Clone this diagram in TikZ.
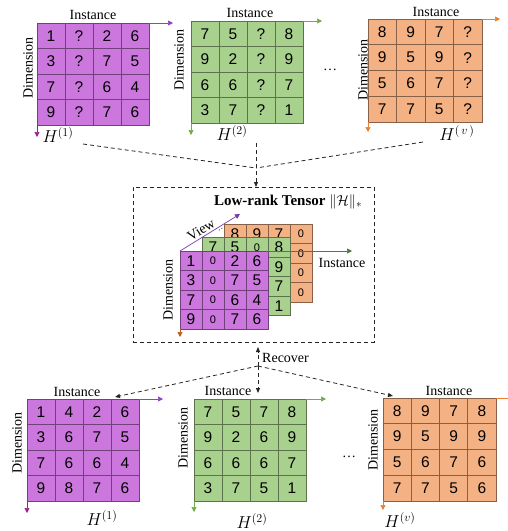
\documentclass[tikz,border=0pt]{standalone}
\usepackage{amsmath,amssymb}
\usepackage{fontspec}
\setmainfont{Liberation Serif}
\newfontfamily\numfont{Liberation Sans}
\usepackage{tikz}
\usetikzlibrary{positioning,calc,arrows.meta}

\definecolor{pfill}{HTML}{CC77DD}
\definecolor{gfill}{HTML}{A9D18E}
\definecolor{ofill}{HTML}{F4B183}
\definecolor{parrow}{HTML}{8E44C8}
\definecolor{pdown}{HTML}{A0209A}
\definecolor{garrow}{HTML}{70AD47}
\definecolor{oarrow}{HTML}{ED7D31}
\definecolor{darkg}{HTML}{4E7A3A}
\definecolor{odown}{HTML}{C55A11}

\tikzset{
  matbox/.style={inner sep=0pt,outer sep=0pt},
  cell/.style={draw=#1!55!black,fill=#1,line width=0.6pt,inner sep=0pt,
    font=\numfont\fontsize{15.5}{15.5}\selectfont},
  lbl/.style={inner sep=1pt,font=\fontsize{14}{16}\selectfont},
  dimlbl/.style={lbl,rotate=90},
  hlbl/.style={inner sep=0pt,font=\fontsize{17}{17}\selectfont},
  axis/.style={line width=0.7pt,-{Triangle[length=5pt,width=5pt]}},
  link/.style={black!85,line width=0.8pt,dash pattern=on 4pt off 3pt,
    -{Triangle[length=5pt,width=4pt]}},
  plain link/.style={black!85,line width=0.8pt,dash pattern=on 4pt off 3pt},
}

% small zero of the tensor slices
\newcommand{\zr}{{\fontsize{11}{11}\selectfont 0}}

% name, north west corner, fill, cell width, cell height, rows
\newcommand{\hmat}[6]{%
  \node[matbox,minimum width=4*#4,minimum height=4*#5,anchor=north west] (#1) at (#2) {};
  \foreach \row [count=\i] in {#6} {
    \foreach \v [count=\j] in \row
      \node[cell=#3,minimum width=#4,minimum height=#5] (#1-\i-\j)
        at ($(#1.north west)+({(\j-0.5)*#4},{(\i-0.5)*#5})$) {\v};
  }
}

\begin{document}
\begin{tikzpicture}[x=1pt,y=-1pt]
    \useasboundingbox (0,0) rectangle (507,531);

    % incomplete views
    \hmat{P1}{37,23}{pfill}{28}{25.5}{{1,?,2,6},{3,?,7,5},{7,?,6,4},{9,?,7,6}}
    \hmat{G1}{191,21}{gfill}{28}{25.5}{{7,5,?,8},{9,2,?,9},{6,6,?,7},{3,7,?,1}}
    \hmat{O1}{368,19}{ofill}{28.5}{25.75}{{8,9,7,?},{9,5,9,?},{5,6,7,?},{7,7,5,?}}
    \draw[axis,parrow] (P1.north east) -- ++(24,0);
    \draw[axis,pdown] (P1.south west) -- ++(0,12);
    \draw[axis,garrow] (G1.north east) -- ++(19,0);
    \draw[axis,garrow] (G1.south west) -- ++(0,12);
    \draw[axis,oarrow] (O1.north east) -- ++(18,0);
    \draw[axis,oarrow] (O1.south west) -- ++(0,10);
    \node[lbl] (P1i) at (93,15) {Instance};
    \node[dimlbl] (P1d) at (28,68) {Dimension};
    \node[hlbl] (P1h) at (58,135) {$H^{(1)}$};
    \node[lbl] (G1i) at (250,13) {Instance};
    \node[dimlbl] (G1d) at (179,60) {Dimension};
    \node[hlbl] (G1h) at (232,133) {$H^{(2)}$};
    \node[lbl] (O1i) at (436,12) {Instance};
    \node[dimlbl] (O1d) at (363,70) {Dimension};
    \node[hlbl] (O1h) at (457,133) {$H^{(\,v\,)}$};
    \node[lbl] (dots1) at (330,70) {\dots};

    % tensor
    \node[draw=black!85,line width=0.8pt,dash pattern=on 4pt off 3pt,inner sep=0pt,
      minimum width=241,minimum height=155,anchor=north west] (tbox) at (133,187) {};
    \node[lbl,font=\bfseries\fontsize{15}{17}\selectfont] (ttl) at (288,202)
      {Low-rank Tensor $\|\mathcal{H}\|_*$};
    \node[inner sep=0pt,rotate=32,font=\fontsize{9}{9}\selectfont] (vdots) at (222,229) {\dots};
    \hmat{TO}{224,224}{ofill}{22}{19.5}{{8,9,7,\zr},{{},{},{},\zr},{{},{},{},\zr},{{},{},{},\zr}}
    \hmat{TG}{202,237.5}{gfill}{22}{19.5}{{7,5,\zr,8},{{},{},{},9},{{},{},{},7},{{},{},{},1}}
    \hmat{TP}{180,251}{pfill}{22}{19.5}{{1,\zr,2,6},{3,\zr,7,5},{7,\zr,6,4},{9,\zr,7,6}}
    \coordinate (vtip) at (240,214);
    \coordinate (itip) at (352,251);
    \draw[axis,parrow!85!black] (TP.north west) -- (vtip);
    \draw[axis,darkg] (TP.north east) -- (itip);
    \draw[axis,odown] (TP.south west) -- ++(0,8);
    \node[lbl,rotate=32] (view) at (201,230) {View};
    \node[lbl] (ti) at (342,263) {Instance};
    \node[dimlbl] (td) at (168,290) {Dimension};

    % recovered views
    \hmat{P2}{27,399}{pfill}{28}{25.5}{{1,4,2,6},{3,6,7,5},{7,6,6,4},{9,8,7,6}}
    \hmat{G2}{194,399}{gfill}{28}{25.5}{{7,5,7,8},{9,2,6,9},{6,6,6,7},{3,7,5,1}}
    \hmat{O2}{383,398}{ofill}{28.25}{25.75}{{8,9,7,8},{9,5,9,9},{5,6,7,6},{7,7,5,6}}
    \draw[axis,parrow] (P2.north east) -- ++(24,0);
    \draw[axis,pdown] (P2.south west) -- ++(0,12);
    \draw[axis,garrow] (G2.north east) -- ++(20,0);
    \draw[axis,garrow] (G2.south west) -- ++(0,11);
    \draw[axis,oarrow] (O2.north east) -- ++(20,0);
    \draw[axis,oarrow] (O2.south west) -- ++(0,9);
    \node[lbl] (P2i) at (77,392) {Instance};
    \node[dimlbl] (P2d) at (17,443) {Dimension};
    \node[hlbl] (P2h) at (102,518) {$H^{(1)}$};
    \node[lbl] (G2i) at (228,391) {Instance};
    \node[dimlbl] (G2d) at (183,438) {Dimension};
    \node[hlbl] (G2h) at (252,521) {$H^{(2)}$};
    \node[lbl] (O2i) at (449,391) {Instance};
    \node[dimlbl] (O2d) at (373,440) {Dimension};
    \node[hlbl] (O2h) at (400,520) {$H^{(v)}$};
    \node[lbl] (dots2) at (349,457) {\dots};

    % links
    \coordinate (J1) at (256,168);
    \coordinate (a1) at (83,144);
    \coordinate (a2) at (256,143);
    \coordinate (a3) at (423,142);
    \draw[plain link] (a1) -- (J1);
    \draw[plain link] (a3) -- (J1);
    \draw[link] (a2) -- (J1 |- tbox.north);
    \coordinate (J2) at (258,366);
    \coordinate (b0) at (258,347);
    \coordinate (b1) at (115,397);
    \coordinate (b2) at (258,393);
    \coordinate (b3) at (393,396);
    \path[link]
    (J2)
    edge (b0)
    edge (b1)
    edge (b2)
    edge (b3)
    ;
    \node[lbl,anchor=west] (rec) at (261,358) {Recover};
  \end{tikzpicture}
\end{document}
